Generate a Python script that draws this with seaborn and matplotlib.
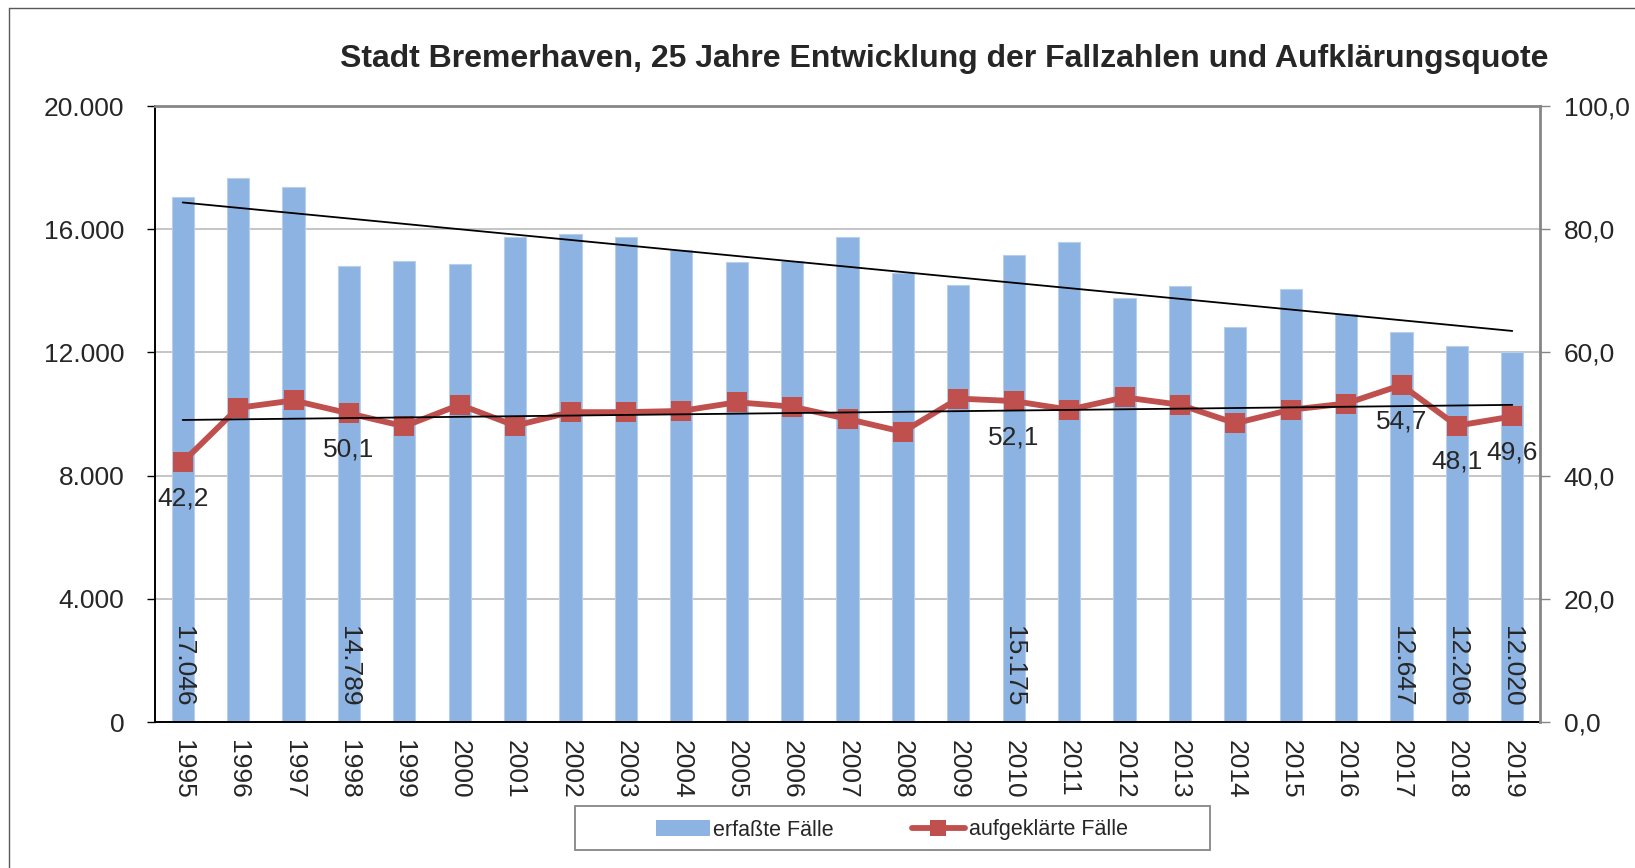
import numpy as np
import pandas as pd
import seaborn as sns
import matplotlib.pyplot as plt
from matplotlib.ticker import FuncFormatter, FixedLocator
from matplotlib.lines import Line2D
from matplotlib.patches import Patch, Rectangle

# Daten: erfasste Faelle (Balken) und Aufklaerungsquote in % (Linie)
jahre = [str(j) for j in range(1995, 2020)]
faelle = [17046, 17660, 17360, 14789, 14980, 14880, 15760, 15830, 15760, 15320,
          14950, 14980, 15760, 14580, 14200, 15175, 15590, 13760, 14170, 12810,
          14070, 13250, 12647, 12206, 12020]
quote = [42.2, 51.0, 52.2, 50.1, 48.0, 51.5, 48.1, 50.3, 50.3, 50.5,
         51.9, 51.2, 49.2, 47.1, 52.5, 52.1, 50.7, 52.7, 51.5, 48.5,
         50.7, 51.7, 54.7, 48.1, 49.6]
beschriftet = ['1995', '1998', '2010', '2017', '2018', '2019']

titel = 'Stadt Bremerhaven, 25 Jahre Entwicklung der Fallzahlen und Aufklärungsquote'
blau = '#8DB3E2'
rot = '#C0504D'

sns.set_style('white')
plt.rcParams['font.family'] = ['Liberation Sans', 'DejaVu Sans']

df = pd.DataFrame({'Jahr': jahre, 'Faelle': faelle, 'Quote': quote})
pos = np.arange(len(df))

fig = plt.figure(figsize=(16.35, 8.68), dpi=100)
ax = fig.add_axes([155/1635, 1-722/868, (1540-155)/1635, (722-106)/868])

sns.barplot(data=df, x='Jahr', y='Faelle', color=blau, width=0.4,
            saturation=1, ax=ax, zorder=2, edgecolor='#B8CFEA', linewidth=0.8)
ax.set_axisbelow(True)

# linearer Trend der Fallzahlen
k, d = np.polyfit(pos, df['Faelle'], 1)
ax.plot(pos, k*pos + d, color='black', lw=1.3, zorder=6)

ax.set_ylim(0, 20000)
ax.set_yticks(range(0, 20001, 4000))
ax.yaxis.set_major_formatter(FuncFormatter(lambda v, p: f'{int(v):,}'.replace(',', '.')))
ax.grid(axis='y', color='#C0C0C0', lw=1.3)
ax.set_xlabel('')
ax.set_ylabel('')
ax.tick_params(axis='y', direction='out', length=6, width=1, color='black',
               labelsize=19, pad=16)
ax.tick_params(axis='x', which='major', length=0, labelsize=19, pad=13,
               labelrotation=270)
ax.xaxis.set_minor_locator(FixedLocator(np.arange(-0.5, len(df), 1)))
ax.tick_params(axis='x', which='minor', direction='out', length=8, width=1, color='black')
for lab in ax.get_xticklabels():
    lab.set_va('top')

for s in ['left', 'bottom']:
    ax.spines[s].set_color('black')
    ax.spines[s].set_linewidth(1.4)
ax.spines['top'].set_color('#868686')
ax.spines['top'].set_linewidth(2)
ax.spines['right'].set_visible(False)

# Werte in den Balken
for i, (j, v) in enumerate(zip(df['Jahr'], df['Faelle'])):
    if j in beschriftet:
        ax.annotate(f'{v:,}'.replace(',', '.'), (i, 0), xytext=(0, 11),
                    textcoords='offset points', rotation=270, ha='center',
                    va='bottom', fontsize=19, zorder=7)

# Aufklaerungsquote auf zweiter Achse
ax2 = ax.twinx()
sns.lineplot(x=pos, y=df['Quote'], ax=ax2, color=rot, lw=4.2, marker='s',
             markersize=14, markeredgewidth=0, zorder=3)
k2, d2 = np.polyfit(pos, df['Quote'], 1)
ax2.plot(pos, k2*pos + d2, color='black', lw=1.3, zorder=6)
ax2.set_ylim(0, 100)
ax2.set_yticks(range(0, 101, 20))
ax2.yaxis.set_major_formatter(FuncFormatter(lambda v, p: f'{v:.1f}'.replace('.', ',')))
ax2.set_ylabel('')
ax2.tick_params(axis='y', direction='out', length=7, width=1, color='#868686',
                labelsize=19, pad=10)
for s in ['left', 'bottom', 'top']:
    ax2.spines[s].set_visible(False)
ax2.spines['right'].set_color('#868686')
ax2.spines['right'].set_linewidth(2)
ax2.set_xlim(-0.5, len(df) - 0.5)

for i, (j, q) in enumerate(zip(df['Jahr'], df['Quote'])):
    if j in beschriftet:
        ax2.annotate(f'{q:.1f}'.replace('.', ','), (i, q), xytext=(0, -26),
                     textcoords='offset points', ha='center', va='center',
                     fontsize=19, zorder=7)

fig.text(944/1635, 1-59/868, titel, ha='center', va='center',
         fontsize=23, fontweight='bold')

# Legende
handles = [Patch(facecolor=blau, edgecolor='none'),
           Line2D([], [], color=rot, lw=4.2, marker='s', markersize=12, markeredgewidth=0)]
fig.legend(handles, ['erfaßte Fälle', 'aufgeklärte Fälle'], loc='center',
           bbox_to_anchor=(892/1635, 1-830/868), ncol=2, frameon=False,
           fontsize=15.5, handlelength=2.5, handleheight=0.7,
           handletextpad=0.15, columnspacing=3.6)
fig.add_artist(Rectangle((575/1635, 1-850/868), 635/1635, 44/868,
                         transform=fig.transFigure, fill=False,
                         edgecolor='#868686', lw=1.3))

# Rahmen um das Diagramm
fig.add_artist(Line2D([9/1635, 9/1635], [0, 1-8/868], transform=fig.transFigure,
                      color='#595959', lw=1))
fig.add_artist(Line2D([9/1635, 1], [1-8/868, 1-8/868], transform=fig.transFigure,
                      color='#595959', lw=1))

fig.savefig('out.png', dpi=100)
